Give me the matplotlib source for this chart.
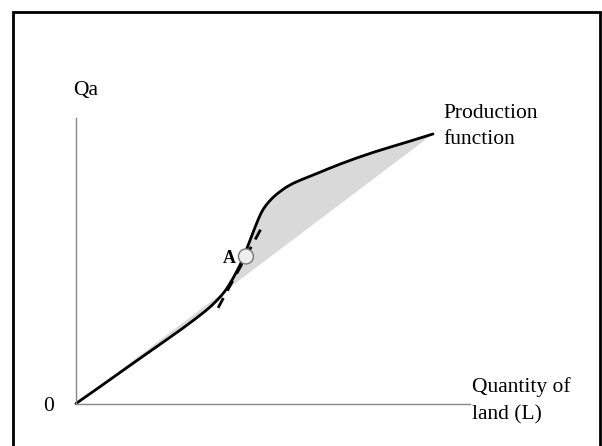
import matplotlib
matplotlib.use("Agg")
import matplotlib.pyplot as plt
from matplotlib.patches import Circle, Rectangle, PathPatch
from matplotlib.path import Path

# ----------------------------
# DATA (arbitrary units)
# ----------------------------
land = [0.00, 0.56, 1.15, 2.07, 3.00, 3.67, 3.89, 4.12, 4.31, 4.51,
        4.65, 4.76, 4.90, 5.04, 5.18, 5.32, 5.52, 5.69, 5.97, 6.36,
        6.72, 7.39, 8.32, 9.27, 10.00]
output = [0.00, 0.39, 0.81, 1.46, 2.11, 2.62, 2.83, 3.07, 3.35, 3.71,
          3.99, 4.27, 4.64, 5.00, 5.34, 5.56, 5.78, 5.92, 6.12, 6.29,
          6.43, 6.71, 7.04, 7.32, 7.55]

point_a = (4.76, 4.12)
tangent_land = [3.98, 5.24]
tangent_output = [2.68, 5.00]

y_axis_top = 8.0
x_axis_end = 11.05


# ----------------------------
# SMOOTH PATH THROUGH THE READ POINTS (quadratic bezier via midpoints)
# ----------------------------
def smooth_path(xs, ys, close=False):
    pts = list(zip(xs, ys))
    verts = [pts[0]]
    codes = [Path.MOVETO]
    for i in range(1, len(pts) - 2):
        mid = ((pts[i][0] + pts[i + 1][0]) / 2, (pts[i][1] + pts[i + 1][1]) / 2)
        verts += [pts[i], mid]
        codes += [Path.CURVE3, Path.CURVE3]
    verts += [pts[-2], pts[-1]]
    codes += [Path.CURVE3, Path.CURVE3]
    if close:
        verts += [pts[0], pts[0]]
        codes += [Path.LINETO, Path.CLOSEPOLY]
    return Path(verts, codes)


# ----------------------------
# FIGURE
# ----------------------------
plt.rcParams["font.family"] = ["Liberation Serif", "DejaVu Serif"]

fig = plt.figure(figsize=(6.02, 4.46), dpi=100)
ax = fig.add_axes([0, 0, 1, 1])
ax.set_xlim(-2.129, 14.734)
ax.set_ylim(-1.190, 11.303)
ax.axis("off")

# outer frame
fig.patches.append(Rectangle((13 / 602, -0.05), 587 / 602, 1 - 11.5 / 446 + 0.05,
                             transform=fig.transFigure, fill=False,
                             edgecolor="black", linewidth=2))

# axes lines
ax.plot([0, 0], [0, y_axis_top], color="#888888", linewidth=1)
ax.plot([0, x_axis_end], [0, 0], color="#888888", linewidth=1)

# shaded area between curve and chord
ax.add_patch(PathPatch(smooth_path(land, output, close=True),
                       facecolor="#d9d9d9", edgecolor="none"))

# production function
ax.add_patch(PathPatch(smooth_path(land, output), facecolor="none",
                       edgecolor="black", linewidth=2, capstyle="round",
                       joinstyle="round"))

# tangent at A
ax.plot(tangent_land, tangent_output, color="black", linewidth=2,
        dashes=(4, 3))

# point A
ax.add_patch(Circle(point_a, 0.21, facecolor="#eeeeee",
                    edgecolor="#777777", linewidth=1, zorder=5))
ax.text(point_a[0] - 0.27, point_a[1] - 0.05, "A", fontsize=13,
        fontweight="bold", ha="right", va="center")

# labels
ax.text(-0.08, 8.63, "Qa", fontsize=15.5, ha="left", va="baseline")
ax.text(-0.78, -0.22, "0", fontsize=15.5, ha="center", va="baseline")
ax.text(10.28, 8.01, "Production", fontsize=15.5, ha="left", va="baseline")
ax.text(10.28, 7.28, "function", fontsize=15.5, ha="left", va="baseline")
ax.text(11.09, 0.31, "Quantity of", fontsize=15.5, ha="left", va="baseline")
ax.text(11.09, -0.45, "land (L)", fontsize=15.5, ha="left", va="baseline")

plt.savefig("out.png", dpi=100)
